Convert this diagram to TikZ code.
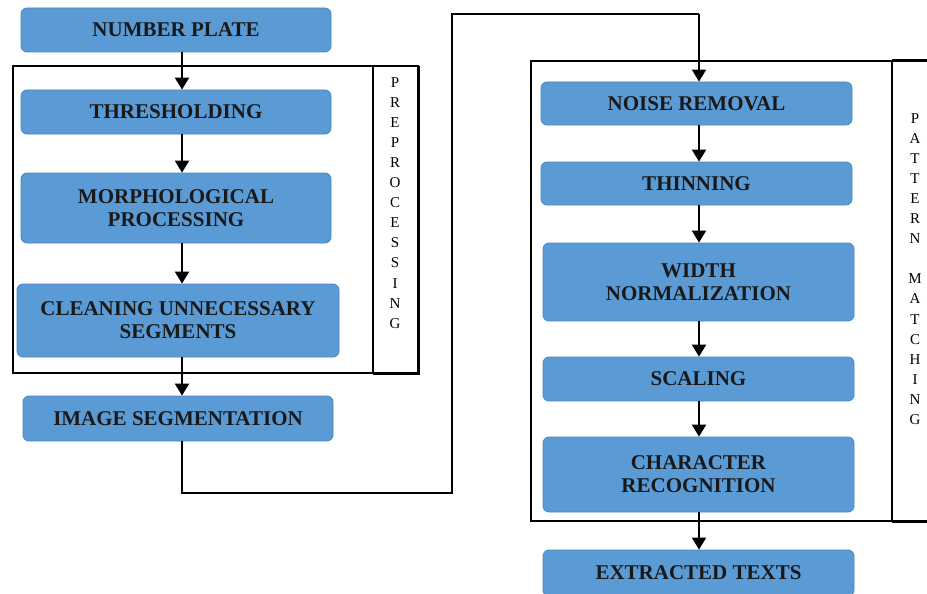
\documentclass[tikz,border=0pt]{standalone}
\usepackage{fontspec}
\setmainfont{Liberation Serif}
\usetikzlibrary{arrows.meta}
\definecolor{boxfill}{HTML}{5B9BD5}
\definecolor{boxline}{HTML}{4A86C0}
\tikzset{
  flowbox/.style={rectangle, rounded corners=6pt, fill=boxfill, draw=boxline, line width=0.8pt,
    align=center, inner sep=0pt, text=black!90,
    font=\fontsize{21}{23}\selectfont\bfseries},
  vlabel/.style={align=center, inner sep=0pt, anchor=north,
    font=\fontsize{15}{20.1}\selectfont},
  arr/.style={line width=2pt, -{Triangle[width=14pt,length=12pt]}},
  conn/.style={line width=1.5pt},
  frame/.style={line width=1.3pt},
  thickframe/.style={line width=3pt}
}
\begin{document}
\begin{tikzpicture}[x=1pt,y=-1pt]
\useasboundingbox (0,0) rectangle (927,594);
% frames
\draw[frame] (13,66) rectangle (418,373);
\draw[frame] (373,66) -- (373,373);
\draw[thickframe] (373,373) -- (418,373) -- (418,66);
\draw[frame] (531,61) rectangle (940,521);
\draw[frame] (892,61) -- (892,521);
\draw[thickframe] (892,61) -- (940,61);
\draw[thickframe] (892,521) -- (940,521);
% left column
\node[flowbox, minimum width=310pt, minimum height=44pt] (np) at (176,30) {NUMBER PLATE};
\node[flowbox, minimum width=310pt, minimum height=44pt] (th) at (176,112) {THRESHOLDING};
\node[flowbox, minimum width=310pt, minimum height=70pt] (mo) at (176,208) {MORPHOLOGICAL\\PROCESSING};
\node[flowbox, minimum width=322pt, minimum height=73pt] (cl) at (178,320.5) {CLEANING UNNECESSARY\\SEGMENTS};
\node[flowbox, minimum width=310pt, minimum height=45pt] (is) at (178,418.5) {IMAGE SEGMENTATION};
% right column
\node[flowbox, minimum width=311pt, minimum height=43pt] (nr) at (696.5,103.5) {NOISE REMOVAL};
\node[flowbox, minimum width=311pt, minimum height=43pt] (tn) at (696.5,183.5) {THINNING};
\node[flowbox, minimum width=311pt, minimum height=78pt] (wn) at (698.5,282) {WIDTH\\NORMALIZATION};
\node[flowbox, minimum width=311pt, minimum height=44pt] (sc) at (698.5,379) {SCALING};
\node[flowbox, minimum width=311pt, minimum height=75pt] (cr) at (698.5,474.5) {CHARACTER\\RECOGNITION};
\node[flowbox, minimum width=311pt, minimum height=46pt] (et) at (698.5,573) {EXTRACTED TEXTS};
% vertical labels
\node[vlabel] (pre) at (395,77) {P\\R\\E\\P\\R\\O\\C\\E\\S\\S\\I\\N\\G};
\node[vlabel] (pat) at (915,113) {P\\A\\T\\T\\E\\R\\N\\\mbox{}\\M\\A\\T\\C\\H\\I\\N\\G};
% arrow columns
\coordinate (xl) at (182,0);
\coordinate (xr) at (699,0);
\draw[arr] (np.south -| xl) -- (th.north -| xl);
\draw[arr] (th.south -| xl) -- (mo.north -| xl);
\draw[arr] (mo.south -| xl) -- (cl.north -| xl);
\draw[arr] (cl.south -| xl) -- (is.north -| xl);
\draw[arr] (nr.south -| xr) -- (tn.north -| xr);
\draw[arr] (tn.south -| xr) -- (wn.north -| xr);
\draw[arr] (wn.south -| xr) -- (sc.north -| xr);
\draw[arr] (sc.south -| xr) -- (cr.north -| xr);
\draw[arr] (cr.south -| xr) -- (et.north -| xr);
% long connector
\coordinate (c1) at (182,493);
\coordinate (c2) at (452,493);
\coordinate (c3) at (452,14);
\coordinate (c4) at (699,14);
\draw[conn] (is.south -| xl) -- (c1) -- (c2) -- (c3) -- (c4);
\draw[conn, -{Triangle[width=14pt,length=12pt]}] (c4) -- (nr.north -| xr);
\end{tikzpicture}
\end{document}
